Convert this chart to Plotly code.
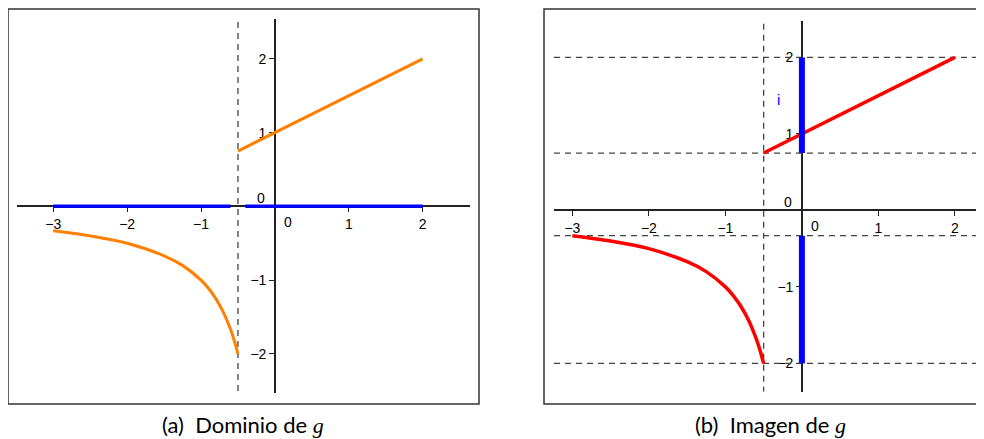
import plotly.graph_objects as go

# g(x) pieces
line_x = [-0.5, 2]
line_y = [0.75, 2]
curve_x = [-3, -2.5, -2, -1.5, -1.25, -1, -0.9, -0.8, -0.7, -0.6, -0.55, -0.5]
curve_y = [-0.33, -0.4, -0.5, -0.67, -0.8, -1, -1.11, -1.25, -1.43, -1.67, -1.82, -2]
asymptote_x = -0.5

# domain pieces on the x axis (gap marks the excluded point) and image pieces on the y axis
domain_pieces = [(-3, -0.6), (-0.4, 2)]
image_pieces = [(0.75, 2), (-2, -0.33)]
image_levels = [2, 0.75, -0.33, -2]

xticks = [-3, -2, -1, 1, 2]
yticks = [-2, -1, 1, 2]

# page body has an 8px margin, so the figure is sized/placed to compensate
OFF = 8
W, H = 984 - OFF, 439 - OFF


def px(x):
  return (x - OFF) / W


def py(y):
  return 1 - (y - OFF) / H


# panel a
xr1, yr1 = [-3.49, 2.64], [-2.53, 2.54]
xd1, yd1 = [px(17), px(470)], [py(393), py(19)]
# panel b
xr2, yr2 = [-3.24, 2.38], [-2.37, 2.48]
xd2, yd2 = [px(554), 1.0], [py(391.7), py(20.7)]


def pos(v, rng, dom):
  return dom[0] + (v - rng[0]) / (rng[1] - rng[0]) * (dom[1] - dom[0])


fig = go.Figure()
dash = dict(color="#444444", width=1.3, dash="6px,5px")
orange = "#FF8000"

# ---- panel a: dominio
fig.add_trace(go.Scatter(x=[asymptote_x, asymptote_x], y=[2.5, yr1[0]], mode="lines",
                         line=dash, xaxis="x", yaxis="y"))
for a, b in domain_pieces:
  fig.add_trace(go.Scatter(x=[a, b], y=[0, 0], mode="lines",
                           line=dict(color="blue", width=3.5), xaxis="x", yaxis="y"))
fig.add_trace(go.Scatter(x=line_x, y=line_y, mode="lines",
                         line=dict(color=orange, width=3), xaxis="x", yaxis="y"))
fig.add_trace(go.Scatter(x=curve_x, y=curve_y, mode="lines",
                         line=dict(color=orange, width=3, shape="spline"), xaxis="x", yaxis="y"))

# ---- panel b: imagen
for lv in image_levels:
  fig.add_trace(go.Scatter(x=xr2, y=[lv, lv], mode="lines", line=dash,
                           xaxis="x2", yaxis="y2"))
fig.add_trace(go.Scatter(x=[asymptote_x, asymptote_x], y=[2.44, yr2[0]], mode="lines",
                         line=dash, xaxis="x2", yaxis="y2"))
fig.add_trace(go.Scatter(x=line_x, y=line_y, mode="lines",
                         line=dict(color="red", width=3.5), xaxis="x2", yaxis="y2"))
fig.add_trace(go.Scatter(x=curve_x, y=curve_y, mode="lines",
                         line=dict(color="red", width=3.5, shape="spline"), xaxis="x2", yaxis="y2"))
for a, b in image_pieces:
  fig.add_trace(go.Scatter(x=[0, 0], y=[a, b], mode="lines",
                           line=dict(color="blue", width=6), xaxis="x2", yaxis="y2"))

tickfont = dict(family="Liberation Sans, Arial", size=14, color="black")
axcommon = dict(showgrid=False, zeroline=False, showline=True, linecolor="#222222",
                linewidth=1.5, ticks="outside", ticklen=5, tickcolor="#222222",
                tickfont=tickfont, layer="below traces", fixedrange=True)

fig.update_layout(
  width=W, height=H,
  margin=dict(l=0, r=0, t=0, b=0),
  paper_bgcolor="white", plot_bgcolor="white",
  showlegend=False,
  xaxis=dict(domain=xd1, range=xr1, anchor="free", position=pos(0, yr1, yd1),
             tickvals=xticks, **axcommon),
  yaxis=dict(domain=yd1, range=yr1, anchor="free", position=pos(0, xr1, xd1),
             tickvals=yticks, **axcommon),
  xaxis2=dict(domain=xd2, range=xr2, anchor="free", position=pos(0, yr2, yd2),
              tickvals=xticks, **axcommon),
  yaxis2=dict(domain=yd2, range=yr2, anchor="free", position=pos(0, xr2, xd2),
              tickvals=yticks, **axcommon),
)

# zero labels, offset away from the axes like the original
for xa, ya in [("x", "y"), ("x2", "y2")]:
  fig.add_annotation(x=0, y=0, xref=xa, yref=ya, text="0", showarrow=False,
                     font=tickfont, xshift=13, yshift=-16)
  fig.add_annotation(x=0, y=0, xref=xa, yref=ya, text="0", showarrow=False,
                     font=tickfont, xshift=-14, yshift=8)

fig.add_annotation(x=-0.3, y=1.45, xref="x2", yref="y2", text="i", showarrow=False,
                   font=dict(family="Liberation Sans, Arial", size=15, color="blue"))

# panel frames
for x0, x1 in [(8, 479), (544, 983)]:
  fig.add_shape(type="rect", xref="paper", yref="paper",
                x0=px(x0), x1=px(x1), y0=py(404), y1=py(9),
                line=dict(color="#333333", width=1.5))

# captions
gi = '<span style="font-family:Liberation Serif;font-style:italic">g</span>'
capfont = dict(family="Lato", size=22, color="black")
fig.add_annotation(x=px(243), y=py(424), xref="paper", yref="paper",
                   xanchor="center", yanchor="middle",
                   text="(a)  Dominio de " + gi, showarrow=False, font=capfont)
fig.add_annotation(x=px(770), y=py(424), xref="paper", yref="paper",
                   xanchor="center", yanchor="middle",
                   text="(b)  Imagen de " + gi, showarrow=False, font=capfont)

fig.write_html("out.html")
